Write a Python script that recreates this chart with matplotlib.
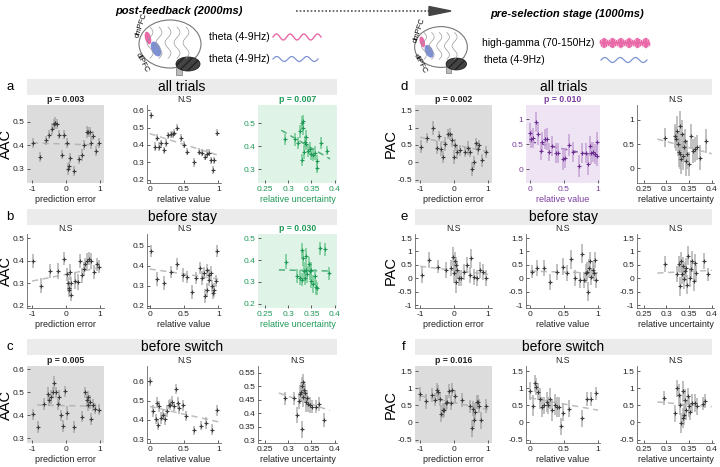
import numpy as np
import matplotlib
matplotlib.use("Agg")
import matplotlib.pyplot as plt
from matplotlib.patches import Ellipse, Rectangle, FancyArrow
from matplotlib.ticker import FuncFormatter

plt.rcParams["font.family"] = ["Liberation Sans", "DejaVu Sans"]
plt.rcParams["axes.unicode_minus"] = False

# ── data ──────────────────────────────────────────────────────────────────────
# fits: [x0, x1, y0, y1] of the dashed regression line

# a: AAC, all trials
a1_x = [-0.96, -0.78, -0.59, -0.49, -0.42, -0.36, -0.31, -0.26, -0.21, -0.13, -0.05, 0.02, 0.05,
        0.08, 0.13, 0.23, 0.37, 0.47, 0.54, 0.61, 0.66, 0.71, 0.74, 0.80, 0.88, 0.98]
a1_y = [0.41, 0.35, 0.42, 0.445, 0.47, 0.49, 0.495, 0.49, 0.445, 0.36, 0.445, 0.41, 0.30,
        0.31, 0.345, 0.29, 0.34, 0.36, 0.40, 0.455, 0.455, 0.455, 0.41, 0.44, 0.375, 0.41]
a1_e = [0.02, 0.02, 0.02, 0.02, 0.025, 0.02, 0.025, 0.02, 0.02, 0.02, 0.02, 0.02, 0.025,
        0.02, 0.02, 0.02, 0.02, 0.025, 0.02, 0.025, 0.02, 0.02, 0.025, 0.02, 0.02, 0.02]
a1_fit = [-1.0, 1.0, 0.41, 0.40]

a2_x = [0.02, 0.07, 0.10, 0.14, 0.16, 0.21, 0.24, 0.27, 0.31, 0.34, 0.36, 0.40, 0.46,
        0.50, 0.55, 0.64, 0.72, 0.76, 0.80, 0.84, 0.87, 0.90, 0.92, 0.94, 0.98]
a2_y = [0.57, 0.39, 0.44, 0.39, 0.41, 0.37, 0.41, 0.455, 0.46, 0.46, 0.47, 0.50, 0.44,
        0.40, 0.36, 0.30, 0.36, 0.355, 0.33, 0.35, 0.355, 0.31, 0.255, 0.31, 0.47]
a2_e = [0.02, 0.025, 0.02, 0.025, 0.02, 0.02, 0.025, 0.02, 0.02, 0.02, 0.02, 0.02, 0.025,
        0.02, 0.02, 0.025, 0.02, 0.02, 0.02, 0.025, 0.02, 0.02, 0.025, 0.02, 0.02]
a2_fit = [0.0, 1.0, 0.465, 0.34]

a3_x = [0.293, 0.314, 0.321, 0.325, 0.329, 0.331, 0.332, 0.329, 0.334, 0.336, 0.338, 0.339,
        0.343, 0.346, 0.350, 0.354, 0.357, 0.361, 0.361, 0.370, 0.384]
a3_y = [0.43, 0.43, 0.415, 0.465, 0.50, 0.51, 0.48, 0.34, 0.375, 0.42, 0.44, 0.41,
        0.38, 0.39, 0.365, 0.36, 0.37, 0.335, 0.305, 0.415, 0.38]
a3_e = [0.025, 0.03, 0.025, 0.03, 0.03, 0.025, 0.03, 0.025, 0.03, 0.025, 0.03, 0.025,
        0.025, 0.03, 0.025, 0.025, 0.03, 0.025, 0.02, 0.025, 0.02]
a3_fit = [0.285, 0.39, 0.47, 0.345]

# b: AAC, before stay
b1_x = [-0.98, -0.74, -0.46, -0.23, -0.05, 0.03, 0.05, 0.08, 0.10, 0.11, 0.14, 0.16,
        0.26, 0.36, 0.41, 0.48, 0.53, 0.56, 0.63, 0.68, 0.75, 0.83, 0.90, 0.98]
b1_y = [0.40, 0.29, 0.355, 0.355, 0.41, 0.34, 0.30, 0.28, 0.27, 0.35, 0.30, 0.25,
        0.31, 0.305, 0.40, 0.335, 0.365, 0.385, 0.40, 0.41, 0.40, 0.35, 0.385, 0.375]
b1_e = [0.03, 0.035, 0.03, 0.035, 0.03, 0.03, 0.03, 0.03, 0.03, 0.035, 0.03, 0.03,
        0.035, 0.035, 0.03, 0.035, 0.03, 0.03, 0.035, 0.03, 0.035, 0.03, 0.03, 0.03]
b1_fit = [-1.0, 1.0, 0.31, 0.37]

b2_x = [0.02, 0.11, 0.21, 0.31, 0.40, 0.49, 0.55, 0.61, 0.67, 0.73, 0.76, 0.79, 0.81,
        0.83, 0.84, 0.86, 0.87, 0.89, 0.91, 0.93, 0.94, 0.96, 0.98]
b2_y = [0.475, 0.335, 0.315, 0.37, 0.41, 0.355, 0.345, 0.27, 0.34, 0.39, 0.34, 0.365, 0.25,
        0.38, 0.28, 0.33, 0.355, 0.365, 0.30, 0.265, 0.28, 0.325, 0.475]
b2_e = [0.03, 0.035, 0.035, 0.03, 0.03, 0.035, 0.03, 0.035, 0.03, 0.03, 0.035, 0.03, 0.035,
        0.03, 0.035, 0.03, 0.03, 0.035, 0.03, 0.03, 0.035, 0.03, 0.03]
b2_fit = [0.0, 1.0, 0.385, 0.335]

b3_x = [0.296, 0.318, 0.325, 0.329, 0.329, 0.331, 0.334, 0.336, 0.338, 0.339, 0.341,
        0.344, 0.346, 0.348, 0.350, 0.354, 0.357, 0.360, 0.363, 0.368, 0.379, 0.388]
b3_y = [0.393, 0.327, 0.32, 0.445, 0.31, 0.41, 0.35, 0.32, 0.355, 0.42, 0.335,
        0.38, 0.35, 0.305, 0.355, 0.29, 0.325, 0.275, 0.27, 0.455, 0.45, 0.34]
b3_e = [0.035, 0.03, 0.035, 0.035, 0.03, 0.035, 0.04, 0.035, 0.03, 0.035, 0.04,
        0.035, 0.04, 0.035, 0.035, 0.04, 0.035, 0.035, 0.03, 0.03, 0.03, 0.03]
b3_fit = [0.28, 0.39, 0.355, 0.35]

# c: AAC, before switch
c1_x = [-0.97, -0.84, -0.64, -0.52, -0.49, -0.44, -0.39, -0.34, -0.29, -0.25, -0.22, -0.16,
        -0.10, -0.03, 0.04, 0.24, 0.46, 0.56, 0.61, 0.64, 0.66, 0.71, 0.74, 0.79, 0.86, 0.96]
c1_y = [0.405, 0.35, 0.45, 0.495, 0.465, 0.48, 0.50, 0.54, 0.50, 0.45, 0.48, 0.40,
        0.355, 0.505, 0.41, 0.35, 0.395, 0.50, 0.465, 0.445, 0.48, 0.46, 0.385, 0.445, 0.43, 0.425]
c1_e = [0.025, 0.025, 0.025, 0.03, 0.025, 0.03, 0.025, 0.03, 0.025, 0.025, 0.03, 0.025,
        0.025, 0.025, 0.03, 0.025, 0.025, 0.025, 0.03, 0.025, 0.025, 0.03, 0.025, 0.025, 0.025, 0.025]
c1_fit = [-0.85, 0.95, 0.445, 0.44]

c2_x = [0.01, 0.05, 0.09, 0.11, 0.12, 0.13, 0.17, 0.20, 0.22, 0.25, 0.28, 0.30,
        0.32, 0.35, 0.38, 0.41, 0.43, 0.48, 0.53, 0.64, 0.75, 0.82, 0.91, 0.98]
c2_y = [0.60, 0.445, 0.405, 0.49, 0.375, 0.47, 0.41, 0.425, 0.405, 0.445, 0.48, 0.48,
        0.495, 0.47, 0.56, 0.49, 0.46, 0.475, 0.42, 0.345, 0.37, 0.385, 0.35, 0.45]
c2_e = [0.025, 0.03, 0.025, 0.03, 0.03, 0.03, 0.03, 0.025, 0.03, 0.03, 0.025, 0.03,
        0.03, 0.025, 0.025, 0.03, 0.03, 0.03, 0.025, 0.025, 0.025, 0.03, 0.03, 0.03]
c2_fit = [0.0, 1.0, 0.47, 0.39]

c3_x = [0.293, 0.312, 0.318, 0.324, 0.325, 0.327, 0.329, 0.330, 0.331, 0.332, 0.334,
        0.336, 0.338, 0.341, 0.343, 0.346, 0.352, 0.360, 0.366, 0.377]
c3_y = [0.455, 0.455, 0.395, 0.445, 0.47, 0.48, 0.34, 0.50, 0.46, 0.515, 0.485,
        0.475, 0.44, 0.455, 0.435, 0.43, 0.425, 0.425, 0.435, 0.375]
c3_e = [0.025, 0.025, 0.03, 0.03, 0.035, 0.035, 0.03, 0.035, 0.035, 0.03, 0.035,
        0.035, 0.035, 0.03, 0.03, 0.03, 0.025, 0.025, 0.025, 0.025]
c3_fit = [0.28, 0.39, 0.475, 0.41]

# d: PAC, all trials
d1_x = [-0.98, -0.81, -0.61, -0.50, -0.44, -0.37, -0.32, -0.27, -0.17, -0.11, -0.05, 0.00,
        0.04, 0.09, 0.17, 0.31, 0.41, 0.48, 0.54, 0.60, 0.65, 0.70, 0.75, 0.83, 0.93]
d1_y = [0.45, 0.69, 0.98, 0.42, 0.75, 0.39, 0.15, 0.52, 0.81, 0.81, 0.64, 0.15,
        0.49, 0.29, 0.34, 0.30, 0.42, 0.30, -0.19, 0.0, 0.54, 0.39, 0.49, 0.05, 0.29]
d1_e = [0.18, 0.15, 0.2, 0.18, 0.15, 0.2, 0.18, 0.2, 0.15, 0.18, 0.2, 0.2,
        0.18, 0.2, 0.15, 0.15, 0.2, 0.15, 0.2, 0.18, 0.15, 0.18, 0.15, 0.2, 0.18]
d1_fit = [-1.0, 1.0, 0.72, 0.30]

d2_x = [0.0, 0.02, 0.05, 0.08, 0.11, 0.16, 0.18, 0.22, 0.25, 0.28, 0.33, 0.38, 0.41, 0.48,
        0.51, 0.57, 0.63, 0.72, 0.77, 0.83, 0.85, 0.88, 0.90, 0.93, 0.95, 0.98, 0.99]
d2_y = [0.73, 0.60, 0.62, 0.95, 0.71, 0.37, 0.55, 0.60, 0.60, 0.35, 0.47, 0.32, 0.32, 0.20,
        0.22, 0.49, 0.35, 0.07, 0.33, 0.33, 0.11, 0.47, 0.32, 0.35, 0.31, 0.55, 0.27]
d2_e = [0.2, 0.18, 0.2, 0.2, 0.22, 0.18, 0.2, 0.2, 0.22, 0.18, 0.2, 0.2, 0.2, 0.22,
        0.2, 0.22, 0.2, 0.22, 0.2, 0.2, 0.22, 0.2, 0.22, 0.2, 0.2, 0.2, 0.2]
d2_fit = [0.0, 1.0, 0.55, 0.25]

d3_x = [0.296, 0.318, 0.321, 0.324, 0.325, 0.327, 0.329, 0.331, 0.332, 0.334, 0.337,
        0.339, 0.341, 0.344, 0.346, 0.350, 0.354, 0.359, 0.364, 0.368, 0.374, 0.388]
d3_y = [0.63, 0.67, 0.60, 0.77, 0.50, 0.33, 0.87, 0.29, 0.19, 0.70, 0.26,
        0.43, 0.56, 0.15, 0.29, 0.09, 0.66, 0.36, 0.39, 0.43, 0.22, 0.56]
d3_e = [0.2, 0.25, 0.25, 0.3, 0.25, 0.3, 0.3, 0.3, 0.3, 0.3, 0.3,
        0.3, 0.25, 0.3, 0.3, 0.25, 0.25, 0.25, 0.25, 0.25, 0.25, 0.25]
d3_fit = [0.28, 0.40, 0.60, 0.30]

# e: PAC, before stay
e1_x = [-0.95, -0.73, -0.46, -0.25, -0.10, -0.02, 0.01, 0.03, 0.05, 0.07, 0.10,
        0.15, 0.20, 0.29, 0.39, 0.46, 0.49, 0.59, 0.68, 0.78, 0.85, 0.95]
e1_y = [0.12, 0.69, 0.44, 0.31, 0.38, 0.81, 0.19, 0.63, -0.13, 0.50, 0.31,
        0.0, 0.0, 0.25, 0.50, 0.12, 0.75, 0.06, 0.0, 0.31, 0.25, 0.0]
e1_e = [0.3, 0.3, 0.25, 0.3, 0.3, 0.35, 0.35, 0.35, 0.4, 0.3, 0.35,
        0.3, 0.3, 0.3, 0.3, 0.3, 0.35, 0.3, 0.3, 0.3, 0.3, 0.3]
e1_fit = [-1.0, 1.0, 0.45, 0.15]

e2_x = [0.03, 0.10, 0.20, 0.30, 0.40, 0.49, 0.54, 0.60, 0.66, 0.73, 0.77,
        0.80, 0.82, 0.84, 0.85, 0.87, 0.88, 0.90, 0.92, 0.94, 0.95, 0.97]
e2_y = [0.25, 0.38, 0.38, -0.13, 0.25, 0.44, 0.19, 0.71, 0.0, -0.06, 0.91,
        -0.06, 0.19, 0.25, -0.50, 0.38, 0.63, 0.06, 0.31, 0.19, 0.69, -0.06]
e2_e = [0.25, 0.3, 0.3, 0.3, 0.3, 0.3, 0.3, 0.35, 0.3, 0.3, 0.35,
        0.3, 0.35, 0.35, 0.35, 0.35, 0.35, 0.3, 0.35, 0.3, 0.3, 0.3]
e2_fit = [0.0, 1.0, 0.27, 0.20]

e3_x = [0.296, 0.323, 0.327, 0.329, 0.332, 0.335, 0.337, 0.339, 0.341, 0.343,
        0.346, 0.348, 0.352, 0.355, 0.357, 0.360, 0.363, 0.366, 0.383, 0.392]
e3_y = [0.52, 0.15, 0.52, -0.29, 0.63, 0.15, 0.46, -0.04, 0.27, 0.40,
        -0.23, 0.84, 0.02, 0.34, 0.65, -0.10, 0.59, 0.21, 0.65, 0.15]
e3_e = [0.3, 0.3, 0.3, 0.35, 0.35, 0.35, 0.35, 0.35, 0.35, 0.35,
        0.35, 0.35, 0.35, 0.35, 0.35, 0.35, 0.3, 0.3, 0.3, 0.25]
e3_fit = [0.28, 0.40, 0.20, 0.30]

# f: PAC, before switch
f1_x = [-1.0, -0.84, -0.64, -0.55, -0.50, -0.46, -0.41, -0.37, -0.33, -0.29, -0.25, -0.21,
        -0.16, -0.10, -0.05, 0.02, 0.24, 0.46, 0.54, 0.56, 0.59, 0.63, 0.67, 0.71, 0.74, 0.81, 0.94]
f1_y = [0.84, 0.62, 0.81, 0.67, 0.94, 0.88, 0.69, 0.26, 0.35, 0.35, 0.57, 0.59,
        0.91, 0.57, 0.96, 0.76, 0.65, 0.47, -0.17, 0.40, 0.08, 0.32, 0.59, 0.59, 0.49, 0.06, 0.49]
f1_e = [0.2, 0.22, 0.2, 0.2, 0.2, 0.22, 0.2, 0.25, 0.22, 0.2, 0.22, 0.2,
        0.2, 0.22, 0.2, 0.2, 0.2, 0.2, 0.25, 0.22, 0.22, 0.25, 0.2, 0.2, 0.2, 0.25, 0.2]
f1_fit = [-1.0, 1.0, 0.78, 0.38]

f2_x = [0.0, 0.04, 0.07, 0.09, 0.11, 0.14, 0.17, 0.21, 0.25, 0.27, 0.30,
        0.32, 0.36, 0.39, 0.43, 0.46, 0.49, 0.58, 0.76, 0.84, 0.90, 0.97]
f2_y = [0.92, 0.49, 1.15, 1.05, 0.90, 0.70, 0.45, 0.50, 0.60, 0.50, 0.70,
        0.35, 0.52, 0.45, 0.45, -0.11, 0.28, 0.40, 0.12, 0.68, 0.68, 0.85]
f2_e = [0.25, 0.3, 0.25, 0.25, 0.25, 0.3, 0.3, 0.25, 0.3, 0.25, 0.3,
        0.3, 0.3, 0.3, 0.3, 0.25, 0.25, 0.25, 0.25, 0.2, 0.2, 0.2]
f2_fit = [0.0, 1.0, 0.72, 0.36]

f3_x = [0.295, 0.318, 0.324, 0.328, 0.331, 0.333, 0.336, 0.337, 0.339, 0.341,
        0.343, 0.347, 0.350, 0.353, 0.357, 0.362, 0.368, 0.380, 0.385]
f3_y = [0.71, 0.27, 1.0, 0.81, 0.52, -0.02, 0.13, 0.91, 0.23, 0.67,
        0.37, 0.76, 0.47, 0.32, 0.57, 0.57, 0.47, 0.55, 0.62]
f3_e = [0.2, 0.25, 0.25, 0.3, 0.3, 0.3, 0.3, 0.3, 0.3, 0.3,
        0.3, 0.25, 0.3, 0.25, 0.25, 0.25, 0.25, 0.2, 0.2]
f3_fit = [0.28, 0.40, 0.60, 0.46]

row_titles = ["all trials", "before stay", "before switch"]
x_labels = ["prediction error", "relative value", "relative uncertainty"]
stats = {
    "a": ["p = 0.003", "N.S", "p = 0.007"],
    "b": ["N.S", "N.S", "p = 0.030"],
    "c": ["p = 0.005", "N.S", "N.S"],
    "d": ["p = 0.002", "p = 0.010", "N.S"],
    "e": ["N.S", "N.S", "N.S"],
    "f": ["p = 0.016", "N.S", "N.S"],
}

# ── styles ────────────────────────────────────────────────────────────────────
GREY = dict(bg="#dcdcdc", dot="#3c3c3c", bar="#a8a8a8", fit="#b5b5b5", txt="#222222")
GREEN = dict(bg="#dff3e6", dot="#1f9a58", bar="#6fc892", fit="#4fb07a", txt="#1f9a58")
PURPLE = dict(bg="#efe4f3", dot="#6b2d8f", bar="#c5a3d6", fit="#8a5aa8", txt="#7b3d9e")
PLAIN = dict(bg="white", dot="#3c3c3c", bar="#b0b0b0", fit="#bdbdbd", txt="#222222")

W, H = 720, 467
fig = plt.figure(figsize=(W / 100, H / 100), dpi=100)


def px_axes(x0, y0, x1, y1, **kw):
    return fig.add_axes([x0 / W, 1 - y1 / H, (x1 - x0) / W, (y1 - y0) / H], **kw)


fmt = FuncFormatter(lambda v, p: f"{v:g}")

col_x = {"L": [(27, 104), (147, 221), (258, 337)],
         "R": [(415, 492), (526, 600), (637, 714)]}
row_y = [(105, 183), (234, 308), (366, 443)]
ylabel_right_edge = {"L": 13, "R": 398}   # pixel x of the y-label's baseline side

xlims = [(-1.15, 1.12), (-0.04, 1.04), (0.235, 0.405)]
xticks = [[-1, 0, 1], [0, 0.5, 1], [0.25, 0.3, 0.35, 0.4]]

panels = [
    # letter, side, row, col, x, y, err, fit, style, ylim, yticks
    ("a", "L", 0, 0, a1_x, a1_y, a1_e, a1_fit, GREY, (0.24, 0.57), [0.3, 0.4, 0.5]),
    ("a", "L", 0, 1, a2_x, a2_y, a2_e, a2_fit, PLAIN, (0.18, 0.63), [0.2, 0.3, 0.4, 0.5, 0.6]),
    ("a", "L", 0, 2, a3_x, a3_y, a3_e, a3_fit, GREEN, (0.24, 0.58), [0.3, 0.4, 0.5]),
    ("b", "L", 1, 0, b1_x, b1_y, b1_e, b1_fit, PLAIN, (0.19, 0.52), [0.2, 0.3, 0.4, 0.5]),
    ("b", "L", 1, 1, b2_x, b2_y, b2_e, b2_fit, PLAIN, (0.19, 0.56), [0.2, 0.3, 0.4, 0.5]),
    ("b", "L", 1, 2, b3_x, b3_y, b3_e, b3_fit, GREEN, (0.18, 0.52), [0.2, 0.3, 0.4, 0.5]),
    ("c", "L", 2, 0, c1_x, c1_y, c1_e, c1_fit, GREY, (0.28, 0.615), [0.3, 0.4, 0.5, 0.6]),
    ("c", "L", 2, 1, c2_x, c2_y, c2_e, c2_fit, PLAIN, (0.28, 0.68), [0.3, 0.4, 0.5, 0.6]),
    ("c", "L", 2, 2, c3_x, c3_y, c3_e, c3_fit, PLAIN, (0.29, 0.575), [0.3, 0.35, 0.4, 0.45, 0.5, 0.55]),
    ("d", "R", 0, 0, d1_x, d1_y, d1_e, d1_fit, GREY, (-0.6, 1.65), [-0.5, 0, 0.5, 1, 1.5]),
    ("d", "R", 0, 1, d2_x, d2_y, d2_e, d2_fit, PURPLE, (-0.28, 1.28), [0, 0.5, 1]),
    ("d", "R", 0, 2, d3_x, d3_y, d3_e, d3_fit, PLAIN, (-0.3, 1.3), [0, 0.5, 1]),
    ("e", "R", 1, 0, e1_x, e1_y, e1_e, e1_fit, PLAIN, (-1.1, 1.65), [-1, -0.5, 0, 0.5, 1, 1.5]),
    ("e", "R", 1, 1, e2_x, e2_y, e2_e, e2_fit, PLAIN, (-1.1, 1.65), [-1, -0.5, 0, 0.5, 1, 1.5]),
    ("e", "R", 1, 2, e3_x, e3_y, e3_e, e3_fit, PLAIN, (-1.1, 1.65), [-1, -0.5, 0, 0.5, 1, 1.5]),
    ("f", "R", 2, 0, f1_x, f1_y, f1_e, f1_fit, GREY, (-0.6, 1.65), [-0.5, 0, 0.5, 1, 1.5]),
    ("f", "R", 2, 1, f2_x, f2_y, f2_e, f2_fit, PLAIN, (-0.6, 1.65), [-0.5, 0, 0.5, 1, 1.5]),
    ("f", "R", 2, 2, f3_x, f3_y, f3_e, f3_fit, PLAIN, (-0.6, 1.65), [-0.5, 0, 0.5, 1, 1.5]),
]

for letter, side, row, col, xs, ys, es, fit, st, ylim, yt in panels:
    (x0, x1), (y0, y1) = col_x[side][col], row_y[row]
    ax = px_axes(x0, y0, x1, y1)
    ax.set_facecolor(st["bg"])
    ax.plot(fit[:2], fit[2:], ls=(0, (4, 3)), color=st["fit"], lw=1.1, zorder=1)
    ax.errorbar(xs, ys, yerr=es, fmt="none", ecolor=st["bar"], elinewidth=1.1,
                capsize=0, zorder=2)
    ax.plot(xs, ys, ls="none", marker="+", ms=3, mew=0.8, color=st["dot"], zorder=3)
    xl = xlims[col]
    if side == "R" and col == 1:
        xl = (-0.06, 1.03)
    ax.set_xlim(xl)
    ax.set_ylim(ylim)
    ax.set_xticks(xticks[col])
    ax.set_yticks(yt)
    ax.xaxis.set_major_formatter(fmt)
    ax.yaxis.set_major_formatter(fmt)
    ax.tick_params(direction="in", length=2, width=0.6, labelsize=6, pad=2,
                   colors="#444444", labelcolor=st["txt"])
    for s in ("top", "right"):
        ax.spines[s].set_visible(False)
    for s in ("left", "bottom"):
        ax.spines[s].set_linewidth(0.6)
        ax.spines[s].set_color("#666666")
        if st["bg"] != "white":
            ax.spines[s].set_visible(False)
    ax.set_xlabel(x_labels[col], fontsize=6.5, labelpad=1.5, color=st["txt"])
    lab = stats[letter][col]
    bold = lab != "N.S"
    ax.set_title(lab, fontsize=6.3, pad=2.5, fontweight="bold" if bold else "normal",
                 color=st["txt"] if bold else "#222222")
    if col == 0:
        ax.set_ylabel("AAC" if side == "L" else "PAC", fontsize=10.5)
        ax.yaxis.set_label_coords((ylabel_right_edge[side] - x0) / (x1 - x0), 0.5)

# ── overlay for banners, letters and the header drawings ─────────────────────
ov = fig.add_axes([0, 0, 1, 1], zorder=-1)
ov.set_xlim(0, W)
ov.set_ylim(H, 0)
ov.axis("off")

banner_y = [(79, 95), (209, 225), (339, 355)]
letters = [["a", "b", "c"], ["d", "e", "f"]]
for si, (bx0, bx1, lx) in enumerate([(27, 337, 10), (415, 712, 404)]):
    for r, (by0, by1) in enumerate(banner_y):
        ov.add_patch(Rectangle((bx0, by0), bx1 - bx0, by1 - by0, color="#ebebeb", lw=0))
        ov.text((bx0 + bx1) / 2, (by0 + by1) / 2, row_titles[r], ha="center",
                va="center", fontsize=10)
        ov.text(lx, (by0 + by1) / 2, letters[si][r], ha="center", va="center", fontsize=9.5)

hd = fig.add_axes([0, 0, 1, 1])
hd.set_xlim(0, W)
hd.set_ylim(H, 0)
hd.axis("off")

hd.text(179, 11, "post-feedback (2000ms)", ha="center", va="center", fontsize=8,
        fontweight="bold", style="italic")
hd.text(567, 14, "pre-selection stage (1000ms)", ha="center", va="center", fontsize=8,
        fontweight="bold", style="italic")
hd.plot([296, 428], [11, 11], ls=(0, (1, 1.2)), color="#555555", lw=1.2)
hd.add_patch(FancyArrow(428, 11, 1, 0, width=0.1, head_width=9, head_length=22,
                        color="#444444", length_includes_head=False))


def draw_brain(a, cx, cy, s=1.0):
    # cerebrum
    a.add_patch(Ellipse((cx, cy), 62 * s, 48 * s, facecolor="white",
                        edgecolor="#777777", lw=0.8))
    # gyri
    tt = np.linspace(0, np.pi, 20)
    for k in range(5):
        a.plot(cx - 20 * s + k * 9 * s + 3 * s * np.sin(3 * tt),
               cy - 17 * s + tt * 10 * s, color="#999999", lw=0.5)
    # cerebellum and stem
    a.add_patch(Rectangle((cx + 6 * s, cy + 18 * s), 6 * s, 13 * s, facecolor="#bbbbbb",
                          edgecolor="#777777", lw=0.5))
    a.add_patch(Ellipse((cx + 18 * s, cy + 20 * s), 24 * s, 14 * s, facecolor="#444444",
                        edgecolor="#222222", lw=0.6, hatch="////"))
    # regions
    a.add_patch(Ellipse((cx - 22 * s, cy - 6 * s), 6 * s, 13 * s, angle=-15,
                        facecolor="#e868a8", edgecolor="none"))
    a.add_patch(Ellipse((cx - 14 * s, cy + 5 * s), 9 * s, 16 * s, angle=-25,
                        facecolor="#6f84cc", edgecolor="none", alpha=0.9))


draw_brain(hd, 170, 44)
hd.text(141, 25, "dmPFC", rotation=72, fontsize=5.5, ha="center", va="center")
hd.text(142, 63, "dlPFC", rotation=-62, fontsize=5.5, ha="center", va="center")
draw_brain(hd, 441, 47, 0.85)
hd.text(419, 30, "dmPFC", rotation=72, fontsize=5.5, ha="center", va="center")
hd.text(420, 64, "dlPFC", rotation=-62, fontsize=5.5, ha="center", va="center")

hd.text(209, 37, "theta (4-9Hz)", fontsize=7.5, va="center")
hd.text(209, 59, "theta (4-9Hz)", fontsize=7.5, va="center")
hd.text(482, 43, "high-gamma (70-150Hz)", fontsize=7.5, va="center")
hd.text(484, 60, "theta (4-9Hz)", fontsize=7.5, va="center")

# signal glyphs
t = np.linspace(0, 1, 200)
hd.plot(273 + 48 * t, 37 - 3 * np.sin(2 * np.pi * 3.5 * t), color="#e868a8", lw=1.0)
hd.plot(273 + 45 * t, 59 - 2.5 * np.sin(2 * np.pi * 3 * t), color="#7f93d3", lw=0.9)
tb = np.linspace(0, 1, 800)
hd.plot(600 + 50 * tb, 43 - 5 * np.sin(2 * np.pi * 28 * tb) * (0.55 + 0.45 * np.sin(2 * np.pi * 3 * tb) ** 2),
        color="#e868a8", lw=0.7)
hd.plot(601 + 46 * t, 60 - 2.5 * np.sin(2 * np.pi * 3 * t), color="#7f93d3", lw=0.9)

fig.savefig("out.png", dpi=100)
